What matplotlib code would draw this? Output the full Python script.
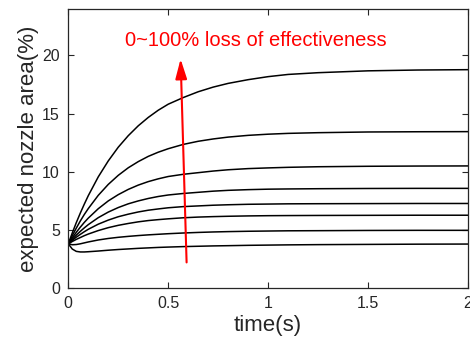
import matplotlib
matplotlib.use("Agg")
import matplotlib.pyplot as plt

# time samples (s)
t = [0, 0.02, 0.04, 0.06, 0.08, 0.1, 0.15, 0.2, 0.25, 0.3, 0.35, 0.4, 0.45, 0.5,
     0.575, 0.65, 0.725, 0.8, 0.9, 1.0, 1.1, 1.25, 1.5, 1.75, 2.0]

# expected nozzle area (%) for 0..100% loss of effectiveness (top to bottom)
area_1 = [3.8, 4.74, 5.62, 6.44, 7.21, 7.94, 9.56, 10.93, 12.11, 13.10, 13.95, 14.67, 15.29, 15.81,
          16.38, 16.88, 17.28, 17.60, 17.92, 18.18, 18.37, 18.52, 18.68, 18.75, 18.78]
area_2 = [3.8, 4.50, 5.15, 5.76, 6.32, 6.83, 7.97, 8.91, 9.69, 10.34, 10.87, 11.32, 11.68, 11.98,
          12.35, 12.62, 12.82, 12.98, 13.13, 13.23, 13.30, 13.36, 13.42, 13.44, 13.45]
area_3 = [3.8, 4.32, 4.79, 5.23, 5.64, 6.01, 6.82, 7.49, 8.03, 8.48, 8.85, 9.15, 9.39, 9.59,
          9.78, 9.92, 10.06, 10.17, 10.27, 10.33, 10.38, 10.43, 10.47, 10.49, 10.50]
area_4 = [3.8, 4.19, 4.55, 4.87, 5.17, 5.45, 6.05, 6.53, 6.92, 7.24, 7.49, 7.70, 7.87, 8.00,
          8.13, 8.23, 8.33, 8.40, 8.46, 8.50, 8.52, 8.54, 8.56, 8.57, 8.57]
area_5 = [3.8, 4.10, 4.37, 4.61, 4.84, 5.05, 5.49, 5.84, 6.13, 6.35, 6.54, 6.69, 6.80, 6.90,
          7.00, 7.06, 7.12, 7.16, 7.20, 7.22, 7.24, 7.25, 7.26, 7.27, 7.27]
area_6 = [3.8, 4.00, 4.18, 4.34, 4.50, 4.64, 4.94, 5.19, 5.39, 5.55, 5.69, 5.80, 5.88, 5.95,
          6.04, 6.10, 6.14, 6.17, 6.20, 6.22, 6.23, 6.24, 6.25, 6.26, 6.26]
area_7 = [3.8, 3.72, 3.74, 3.80, 3.88, 3.96, 4.13, 4.26, 4.36, 4.44, 4.51, 4.57, 4.62, 4.67,
          4.73, 4.78, 4.82, 4.85, 4.88, 4.90, 4.92, 4.93, 4.95, 4.96, 4.96]
area_8 = [3.8, 3.35, 3.15, 3.10, 3.10, 3.12, 3.18, 3.25, 3.31, 3.36, 3.41, 3.45, 3.49, 3.52,
          3.56, 3.59, 3.62, 3.64, 3.67, 3.69, 3.71, 3.73, 3.75, 3.77, 3.78]
curves = [area_1, area_2, area_3, area_4, area_5, area_6, area_7, area_8]

xticks = [0, 0.5, 1, 1.5, 2]
xticklabels = ["0", "0.5", "1", "1.5", "2"]
yticks = [0, 5, 10, 15, 20]

plt.rcParams["font.family"] = ["Liberation Sans", "DejaVu Sans"]
axis_color = "#262626"

fig = plt.figure(figsize=(4.7, 3.51), dpi=100)
ax = fig.add_axes([0.1453, 0.1795, 0.8504, 0.7949])

for values in curves:
    ax.plot(t, values, color="black", linewidth=1.1)

ax.annotate(
    "",
    xy=(0.562, 19.7),
    xytext=(0.592, 2.2),
    arrowprops=dict(
        arrowstyle="-|>,head_length=1.2,head_width=0.35",
        color="red",
        lw=1.5,
        mutation_scale=10,
        shrinkA=0,
        shrinkB=0,
    ),
)
ax.text(0.283, 21.3, "0~100% loss of effectiveness", color="red",
        fontsize=14.5, ha="left", va="center")

ax.set_xlim(0, 2)
ax.set_ylim(0, 24)
ax.set_xticks(xticks)
ax.set_xticklabels(xticklabels)
ax.set_yticks(yticks)
ax.tick_params(direction="in", length=4, width=0.8, colors=axis_color,
               labelsize=11.5, top=True, right=True, pad=6)
for spine in ax.spines.values():
    spine.set_color(axis_color)
    spine.set_linewidth(0.9)

ax.set_xlabel("time(s)", fontsize=16, color=axis_color, labelpad=3)
ax.set_ylabel("expected nozzle area(%)", fontsize=16, color=axis_color, labelpad=2)

fig.savefig("out.png", dpi=100)
